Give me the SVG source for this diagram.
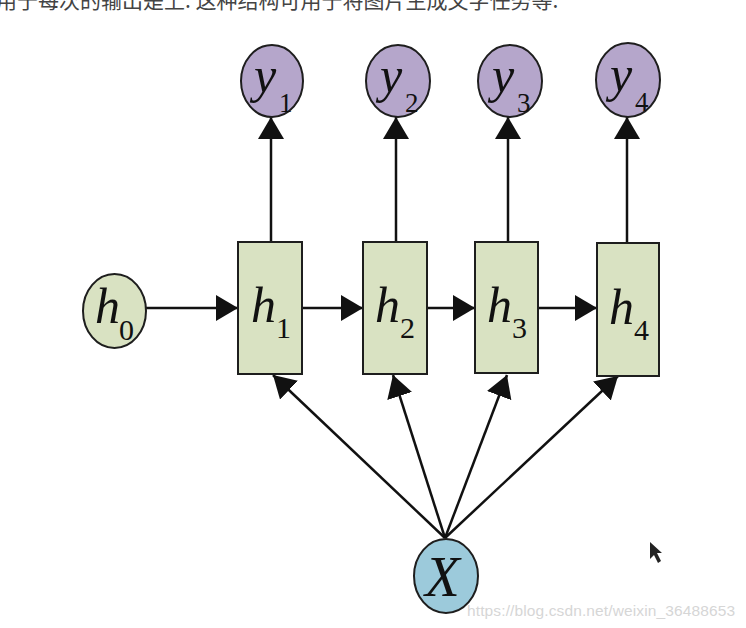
<svg xmlns="http://www.w3.org/2000/svg" width="746" height="628" viewBox="0 0 746 628">
<defs>
<style>
.y{fill:#b5a6cb;stroke:#1e1e1e;stroke-width:2}
.h{fill:#d9e2c2;stroke:#1e1e1e;stroke-width:2}
.x{fill:#9ccadb;stroke:#1e1e1e;stroke-width:2}
.e{stroke:#111;stroke-width:2.5;fill:none;marker-end:url(#ah)}
.v{font-family:"Liberation Serif","DejaVu Serif",serif;font-style:italic;fill:#111}
.s{font-family:"Liberation Serif","DejaVu Serif",serif;fill:#111}
</style>
<marker id="ah" markerUnits="userSpaceOnUse" markerWidth="23" markerHeight="26" refX="22" refY="13" orient="auto">
<path d="M0,0 L22,13 L0,26 z" fill="#111"/>
</marker>
</defs>
<rect width="746" height="628" fill="#fff"/>
<text x="-4" y="8" font-family="'Noto Sans CJK SC',sans-serif" font-size="21" fill="#444">用于每次的输出是上. 这种结构可用于将图片生成文字任务等.</text>
<g id="connectors">
<line class="e" x1="146" y1="308" x2="238" y2="308"/>
<line class="e" x1="302" y1="308" x2="363" y2="308"/>
<line class="e" x1="427" y1="308" x2="475" y2="308"/>
<line class="e" x1="538" y1="308" x2="597" y2="308"/>
<line class="e" x1="271" y1="242" x2="271" y2="117"/>
<line class="e" x1="396" y1="242" x2="396" y2="117"/>
<line class="e" x1="508" y1="242" x2="508" y2="117"/>
<line class="e" x1="627" y1="243" x2="627" y2="117"/>
<line class="e" x1="445" y1="538" x2="273" y2="375"/>
<line class="e" x1="445" y1="538" x2="393" y2="375"/>
<line class="e" x1="445" y1="538" x2="507" y2="375"/>
<line class="e" x1="445" y1="538" x2="618" y2="376"/>
</g>
<g id="y1"><ellipse class="y" cx="272" cy="81" rx="31" ry="36"/><text class="v" x="254" y="92" font-size="50">y</text><text class="s" x="279" y="112" font-size="27">1</text></g>
<g id="y2"><ellipse class="y" cx="398" cy="81" rx="32" ry="36"/><text class="v" x="380" y="92" font-size="50">y</text><text class="s" x="405" y="112" font-size="27">2</text></g>
<g id="y3"><ellipse class="y" cx="510" cy="81" rx="32" ry="36"/><text class="v" x="492" y="92" font-size="50">y</text><text class="s" x="517" y="112" font-size="27">3</text></g>
<g id="y4"><ellipse class="y" cx="628" cy="80" rx="32" ry="37"/><text class="v" x="610" y="91" font-size="50">y</text><text class="s" x="635" y="111" font-size="27">4</text></g>
<g id="h0"><ellipse class="h" cx="114.5" cy="311" rx="31.5" ry="37"/><text class="v" x="95" y="323" font-size="50">h</text><text class="s" x="119" y="340" font-size="30">0</text></g>
<g id="h1"><rect class="h" x="238" y="242" width="64" height="132"/><text class="v" x="251" y="322" font-size="50">h</text><text class="s" x="276" y="338" font-size="30">1</text></g>
<g id="h2"><rect class="h" x="363" y="242" width="64" height="132"/><text class="v" x="375" y="322" font-size="50">h</text><text class="s" x="400" y="338" font-size="30">2</text></g>
<g id="h3"><rect class="h" x="475" y="242" width="63" height="131"/><text class="v" x="487" y="322" font-size="50">h</text><text class="s" x="512" y="338" font-size="30">3</text></g>
<g id="h4"><rect class="h" x="597" y="243" width="62" height="133"/><text class="v" x="609" y="324" font-size="50">h</text><text class="s" x="634" y="340" font-size="30">4</text></g>
<g id="X"><ellipse class="x" cx="446" cy="576" rx="32" ry="37"/><text class="v" x="425" y="596" font-size="57">X</text></g>
<text x="467" y="616" font-family="'Liberation Sans',Arial,sans-serif" font-size="15.5" fill="#d6d6d6" textLength="268">https://blog.csdn.net/weixin_36488653</text>
<path d="M650,542 L650,559 L654,555 L658,563 L661,561 L657,553 L662,553 z" fill="#222"/>
</svg>
